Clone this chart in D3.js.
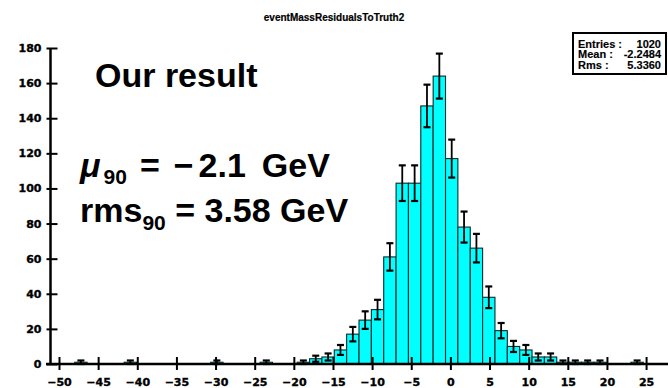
<!DOCTYPE html>
<html>
<head>
<meta charset="utf-8">
<script src="https://cdn.jsdelivr.net/npm/d3@7"></script>
<style>
  body { margin: 0; background: #fff; }
  text { font-family: Arial, "Liberation Sans", sans-serif; }
</style>
</head>
<body>
<svg id="chart" width="668" height="388"></svg>
<script>
// Histogram range (50 bins)
const binLow = -51.15;
const binHigh = 27.8;

// Counts per bin, left to right
const binCounts = [
  0, 0, 1, 0, 0, 0, 1, 0, 0, 0,
  0, 0, 0, 1, 0, 0, 0, 1, 0, 0,
  1, 3, 4, 8, 17, 25, 31, 61, 103, 103,
  147, 164, 117, 78, 66, 38, 19, 10, 8, 4,
  4, 1, 1, 1, 1, 0, 0, 1, 0, 0
];

const xTicks = d3.range(-50, 26, 5);
const yTicks = d3.range(0, 181, 20);

const statLabels = ['Entries :', 'Mean :', 'Rms :'];
const statValues = ['1020', '-2.2484', '5.3360'];

const title = 'eventMassResidualsToTruth2';

const svg = d3.select('#chart');

const x = d3.scaleLinear().domain([binLow, binHigh]).range([50, 668]);
const y = d3.scaleLinear().domain([0, 180]).range([364, 48]);

const binWidth = (binHigh - binLow) / binCounts.length;
const bins = binCounts.map((n, i) => ({
  x0: binLow + i * binWidth,
  x1: binLow + (i + 1) * binWidth,
  n: n
})).filter(d => d.n > 0);

// Title
svg.append('text')
  .attr('x', 334)
  .attr('y', 21)
  .attr('text-anchor', 'middle')
  .style('font-size', '10px')
  .style('font-weight', 'bold')
  .attr('stroke', '#000')
  .attr('stroke-width', 0.2)
  .text(title);

// Bars
svg.append('g')
  .selectAll('rect')
  .data(bins)
  .join('rect')
  .attr('x', d => x(d.x0))
  .attr('y', d => y(d.n))
  .attr('width', d => x(d.x1) - x(d.x0))
  .attr('height', d => y(0) - y(d.n))
  .attr('fill', '#00ffff')
  .attr('stroke', '#0a2a2a')
  .attr('stroke-width', 1.1);

// Error bars
const err = svg.append('g')
  .attr('stroke', '#000')
  .attr('stroke-width', 1.8);

bins.forEach(d => {
  const cx = (x(d.x0) + x(d.x1)) / 2;
  const e = Math.sqrt(d.n);
  const top = y(d.n + e);
  const bot = y(Math.max(d.n - e, 0));
  err.append('line').attr('x1', cx).attr('x2', cx).attr('y1', top).attr('y2', bot);
  err.append('line').attr('x1', cx - 3.5).attr('x2', cx + 3.5).attr('y1', top).attr('y2', top)
    .attr('stroke-width', 2.2);
  err.append('line').attr('x1', cx - 3.5).attr('x2', cx + 3.5).attr('y1', bot).attr('y2', bot)
    .attr('stroke-width', 2.2);
});

// X axis
const xAxisGroup = svg.append('g')
  .attr('transform', `translate(0,${y(0)})`)
  .call(d3.axisBottom(x).tickValues(xTicks).tickSizeOuter(0).tickSizeInner(6).tickPadding(8));

xAxisGroup.select('.domain').remove();
xAxisGroup.append('line')
  .attr('x1', 46).attr('x2', 668)
  .attr('stroke', '#000').attr('stroke-width', 2.5);
xAxisGroup.selectAll('.tick line')
  .attr('y1', -7).attr('y2', 6)
  .attr('stroke', '#000').attr('stroke-width', 2);
xAxisGroup.selectAll('.tick text')
  .style('font-family', '"DejaVu Sans", sans-serif')
  .style('font-size', '11px')
  .style('font-weight', 'bold')
  .attr('fill', '#000')
  .attr('stroke', '#000')
  .attr('stroke-width', 0.35);

// Y axis
const yAxisGroup = svg.append('g')
  .attr('transform', `translate(${x(binLow) + 0.5},0)`)
  .call(d3.axisLeft(y).tickValues(yTicks).tickSizeOuter(0).tickSizeInner(4).tickPadding(5));

yAxisGroup.select('.domain').remove();
yAxisGroup.append('line')
  .attr('y1', y(180)).attr('y2', y(0))
  .attr('stroke', '#000').attr('stroke-width', 2.5);
yAxisGroup.selectAll('.tick line')
  .attr('x1', -4).attr('x2', 7)
  .attr('stroke', '#000').attr('stroke-width', 2);
yAxisGroup.selectAll('.tick text')
  .style('font-family', '"DejaVu Sans", sans-serif')
  .style('font-size', '11px')
  .style('font-weight', 'bold')
  .attr('fill', '#000')
  .attr('stroke', '#000')
  .attr('stroke-width', 0.35);

// Stats box
const stats = svg.append('g');
stats.append('rect')
  .attr('x', 573).attr('y', 33).attr('width', 93).attr('height', 41)
  .attr('fill', '#fff').attr('stroke', '#000').attr('stroke-width', 2);
statLabels.forEach((label, i) => {
  stats.append('text')
    .attr('x', 578).attr('y', 47.5 + i * 10.5)
    .style('font-size', '11px').style('font-weight', 'bold')
    .attr('stroke', '#000').attr('stroke-width', 0.15)
    .text(label);
  stats.append('text')
    .attr('x', 661).attr('y', 47.5 + i * 10.5)
    .attr('text-anchor', 'end')
    .style('font-size', '11px').style('font-weight', 'bold')
    .attr('stroke', '#000').attr('stroke-width', 0.15)
    .text(statValues[i]);
});

// Annotations
const note = svg.append('g')
  .style('font-size', '34px')
  .style('font-weight', 'bold')
  .attr('fill', '#000');

note.append('text')
  .attr('x', 95).attr('y', 87)
  .text('Our result');

const mu = note.append('text').attr('x', 80).attr('y', 177);
mu.append('tspan').style('font-style', 'italic').text('\u03bc');
mu.append('tspan').attr('dy', 7).attr('dx', 3).style('font-size', '21px').text('90');
mu.append('tspan').attr('dy', -7).attr('dx', 13).text('=');
mu.append('tspan').attr('dx', 14).text('\u2212');
mu.append('tspan').attr('dx', 5).text('2.1');
mu.append('tspan').attr('dx', 16).text('GeV');

const rms = note.append('text').attr('x', 80).attr('y', 222);
rms.append('tspan').text('rms');
rms.append('tspan').attr('dy', 8).style('font-size', '21px').text('90');
rms.append('tspan').attr('dy', -8).text(' = 3.58 GeV');
</script>
</body>
</html>
